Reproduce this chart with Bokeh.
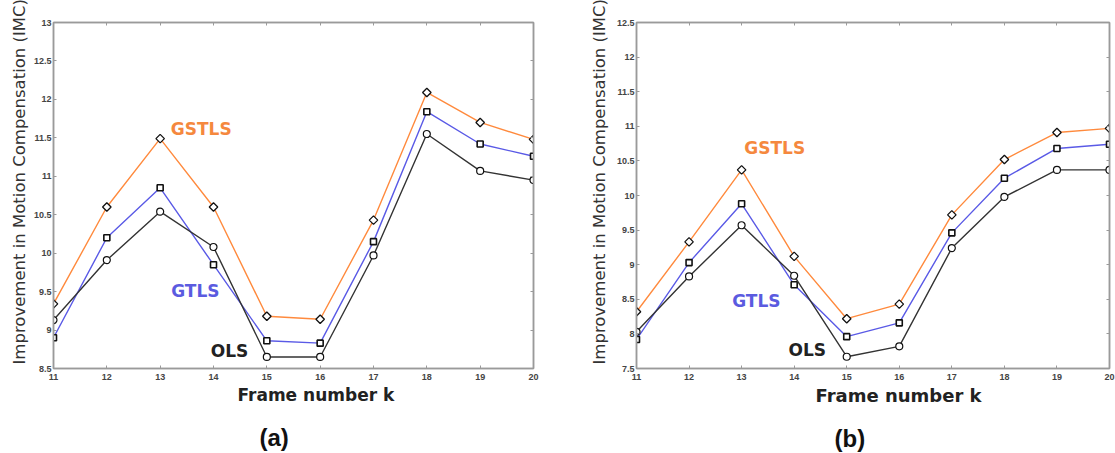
import numpy as np
from bokeh.plotting import figure
from bokeh.layouts import row
from bokeh.models import Range1d, FixedTicker, LinearAxis, Label, Title
from bokeh.embed import file_html
from bokeh.resources import INLINE

frames = [11, 12, 13, 14, 15, 16, 17, 18, 19, 20]
x_tick_labels = ["11", "12", "13", "14", "15", "16", "17", "18", "19", "20"]

# panel (a)
a_gstls = [9.34, 10.60, 11.49, 10.60, 9.18, 9.14, 10.43, 12.09, 11.70, 11.48]
a_gtls = [8.90, 10.20, 10.85, 9.85, 8.86, 8.83, 10.15, 11.84, 11.42, 11.26]
a_ols = [9.13, 9.91, 10.54, 10.08, 8.65, 8.65, 9.97, 11.55, 11.07, 10.95]
a_yticks = [8.5, 9, 9.5, 10, 10.5, 11, 11.5, 12, 12.5, 13]
a_ytick_labels = ["8.5", "9", "9.5", "10", "10.5", "11", "11.5", "12", "12.5", "13"]

# panel (b)
b_gstls = [8.32, 9.33, 10.37, 9.12, 8.22, 8.43, 9.72, 10.52, 10.91, 10.97]
b_gtls = [7.92, 9.03, 9.88, 8.71, 7.96, 8.16, 9.46, 10.25, 10.68, 10.74]
b_ols = [8.03, 8.83, 9.57, 8.84, 7.67, 7.82, 9.24, 9.98, 10.37, 10.37]
b_yticks = [7.5, 8, 8.5, 9, 9.5, 10, 10.5, 11, 11.5, 12, 12.5]
b_ytick_labels = ["7.5", "8", "8.5", "9", "9.5", "10", "10.5", "11", "11.5", "12", "12.5"]

series_names = ["GSTLS", "GTLS", "OLS"]
series_colors = ["#FF8A3D", "#5A5AE6", "#333333"]
label_colors = ["#F5883E", "#5B5BE0", "#222222"]

FRAME_COL = "#9a9a9a"
TICK_FONT = "Liberation Sans"


def style_axis(ax, ticks, labels, show_labels=True):
    ax.ticker = FixedTicker(ticks=ticks)
    ax.axis_line_color = FRAME_COL
    ax.axis_line_width = 1.5
    ax.major_tick_line_color = FRAME_COL
    ax.major_tick_in = 3
    ax.major_tick_out = 0
    ax.minor_tick_line_color = None
    ax.major_label_text_font = TICK_FONT
    ax.major_label_text_font_style = "bold"
    ax.major_label_text_color = "#444444"
    ax.major_label_text_font_size = "9px"
    if show_labels:
        ax.major_label_overrides = {t: l for t, l in zip(ticks, labels)}
    else:
        ax.major_label_overrides = {t: "" for t in ticks}
        ax.major_label_standoff = 0


def panel(ys, yticks, ytick_labels, yr, borders, label_pos, ylab, xlab, caption, width):
    bl, br, bt, bb = borders
    p = figure(width=width, height=453, output_backend="svg", toolbar_location=None,
               x_range=Range1d(11, 20), y_range=Range1d(*yr),
               min_border_left=bl, min_border_right=br, min_border_top=bt, min_border_bottom=bb)
    p.grid.visible = False
    p.outline_line_color = FRAME_COL
    p.outline_line_width = 1.5
    p.background_fill_color = "white"
    p.border_fill_color = "white"

    style_axis(p.xaxis[0], frames, x_tick_labels)
    p.xaxis[0].major_label_standoff = 5
    style_axis(p.yaxis[0], yticks, ytick_labels)
    p.yaxis[0].major_label_standoff = 2

    top = LinearAxis()
    style_axis(top, frames, x_tick_labels, show_labels=False)
    p.add_layout(top, "above")
    right = LinearAxis()
    style_axis(right, yticks, ytick_labels, show_labels=False)
    p.add_layout(right, "right")

    markers = ["diamond", "square", "circle"]
    for vals, col, mk in zip(ys, series_colors, markers):
        p.line(frames, vals, line_color=col, line_width=1.4)
        if mk == "diamond":
            p.scatter(frames, vals, marker="square", angle=np.pi / 4, size=6,
                      line_color="#111111", fill_color="white", line_width=1.3)
        elif mk == "square":
            p.scatter(frames, vals, marker="square", size=6,
                      line_color="#111111", fill_color="white", line_width=1.6)
        else:
            p.scatter(frames, vals, marker="circle", size=7,
                      line_color="#111111", fill_color="white", line_width=1.2)

    for name, col, (lx, ly) in zip(series_names, label_colors, label_pos):
        p.add_layout(Label(x=lx, y=ly, text=name, text_color=col, text_font="DejaVu Sans",
                           text_font_style="bold", text_font_size="17px",
                           text_align="center", text_baseline="middle"))

    # y label
    p.add_layout(Title(text="Improvement in Motion Compensation (IMC)", align="left",
                       offset=ylab[0], standoff=ylab[1], text_font="DejaVu Sans",
                       text_font_style="normal", text_font_size="16.5px",
                       text_color="#333333"), "left")
    # x label
    p.add_layout(Title(text="Frame number k", align="left", offset=xlab[0], standoff=0,
                       text_font="DejaVu Sans", text_font_style="bold", text_font_size=xlab[1],
                       text_color="#222222"), "below")
    # spacer between x label and caption
    p.add_layout(Title(text=" ", standoff=4, text_font_size="10px"), "below")
    # caption
    p.add_layout(Title(text=caption[0], align="left", offset=caption[1], standoff=0,
                       text_font="Liberation Sans", text_font_style="bold",
                       text_font_size="24px", text_color="#111111"), "below")
    return p


pa = panel([a_gstls, a_gtls, a_ols], a_yticks, a_ytick_labels, (8.5, 13),
           (53, 27, 21, 85),
           [(13.77, 11.62), (13.66, 9.51), (14.30, 8.73)],
           (4, 4), (184, "17px"), ("(a)", 206), 560)
pb = panel([b_gstls, b_gtls, b_ols], b_yticks, b_ytick_labels, (7.5, 12.5),
           (76, 6, 22, 83),
           [(13.63, 10.68), (13.28, 8.48), (14.25, 7.77)],
           (4, 10), (179, "18px"), ("(b)", 198), 555)

layout = row(pa, pb)
open("out.html", "w").write(file_html(layout, INLINE))
